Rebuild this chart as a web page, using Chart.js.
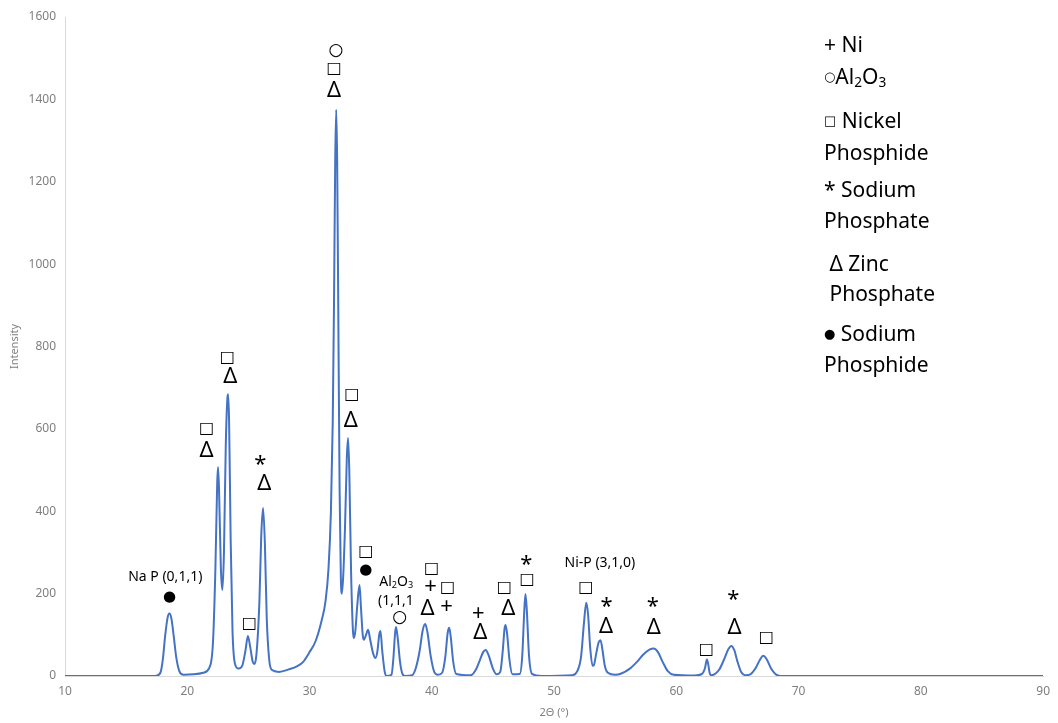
<!DOCTYPE html>
<html>
<head>
    <title>XRD pattern</title>
    <script src="https://cdn.jsdelivr.net/npm/chart.js"></script>
    <style>
        body { margin: 0; background: #fff; }
        .wrap { position: relative; width: 1058px; height: 723px; }
    </style>
</head>
<body>
    <div class="wrap">
        <canvas id="xrd-chart"></canvas>
    </div>

    <script>
        // 2-theta positions and intensity
        const twoTheta = [
            10, 17.4, 17.8, 18.0, 18.2, 18.4, 18.55, 18.7, 18.9, 19.1, 19.35, 19.7, 20.5, 21.3, 21.8,
            22.1, 22.3, 22.45, 22.52, 22.6, 22.75, 22.87, 23.0, 23.15, 23.3, 23.34, 23.42, 23.55, 23.7, 23.9,
            24.2, 24.5, 24.75, 24.96, 25.15, 25.35, 25.48, 25.65, 25.9, 26.05, 26.2, 26.35, 26.5, 26.7, 26.9,
            27.5, 28.3, 29.0, 29.5, 29.96, 30.5, 31.0, 31.3, 31.55, 31.75, 31.9, 32.0, 32.1, 32.18, 32.26,
            32.36, 32.46, 32.56, 32.64, 32.75, 32.9, 33.05, 33.15, 33.25, 33.4, 33.55, 33.62, 33.75, 33.9, 34.09,
            34.2, 34.35, 34.45, 34.6, 34.79, 34.95, 35.2, 35.39, 35.55, 35.7, 35.8, 35.95, 36.15, 36.3, 36.7,
            36.85, 37.0, 37.07, 37.2, 37.4, 37.6, 37.8, 38.4, 38.7, 39.0, 39.25, 39.46, 39.65, 39.9, 40.2,
            40.5, 40.85, 41.1, 41.3, 41.42, 41.55, 41.75, 42.0, 43.2, 43.6, 43.95, 44.2, 44.4, 44.65, 45.0,
            45.3, 45.6, 45.8, 45.95, 46.03, 46.15, 46.35, 46.6, 47.2, 47.4, 47.55, 47.66, 47.77, 47.95, 48.2,
            49, 51.5, 51.9, 52.2, 52.45, 52.63, 52.78, 52.95, 53.15, 53.25, 53.45, 53.65, 53.8, 53.95, 54.15,
            54.4, 55.0, 55.5, 56.2, 56.8, 57.3, 57.8, 58.15, 58.5, 58.9, 59.3, 59.8, 61.5, 62.1, 62.35,
            62.5, 62.6, 62.72, 62.85, 63.1, 63.5, 63.9, 64.25, 64.5, 64.75, 65.0, 65.3, 65.7, 66.1, 66.5,
            66.85, 67.1, 67.4, 67.75, 68.1, 68.5, 90
        ];
        const intensity = [
            0, 0, 8, 40, 100, 143, 152, 140, 95, 45, 12, 3, 4, 8, 20,
            80, 260, 470, 507, 450, 260, 209, 300, 560, 680, 684, 620, 330, 110, 30,
            18, 25, 60, 97, 70, 35, 29, 50, 180, 340, 408, 320, 140, 40, 15,
            10, 16, 24, 35, 56, 85, 136, 180, 260, 400, 620, 900, 1250, 1375, 1250,
            850, 450, 240, 200, 240, 360, 530, 578, 500, 250, 110, 92, 110, 170, 221,
            170, 100, 88, 98, 112, 90, 55, 44, 60, 100, 109, 60, 10, 0, 3,
            40, 105, 119, 95, 35, 5, 0, 2, 20, 60, 110, 126, 105, 50, 10,
            3, 8, 45, 105, 117, 95, 35, 5, 2, 15, 40, 58, 63, 50, 18,
            4, 10, 60, 115, 124, 105, 40, 4, 5, 50, 150, 199, 160, 50, 5,
            0, 2, 12, 45, 130, 178, 150, 70, 25, 26, 55, 82, 87, 65, 25,
            8, 3, 6, 18, 35, 52, 64, 67, 58, 33, 12, 3, 1, 5, 20,
            40, 30, 8, 2, 4, 15, 40, 65, 73, 62, 35, 10, 2, 5, 20,
            40, 49, 40, 18, 5, 0, 0
        ];

        const xTicks = [10, 20, 30, 40, 50, 60, 70, 80, 90];
        const yTicks = [0, 200, 400, 600, 800, 1000, 1200, 1400, 1600];

        // phase symbols placed over the peaks (2-theta, intensity)
        const peakMarks = [
            [18.55, 192, '●'],
            [21.57, 600, '□'], [21.57, 546, 'Δ'],
            [23.28, 772, '□'], [23.52, 726, 'Δ'],
            [25.07, 126, '□'],
            [25.97, 512, '*'], [26.3, 468, 'Δ'],
            [32.16, 1519, '○'], [32.0, 1473, '□'], [32.0, 1420, 'Δ'],
            [33.46, 682, '□'], [33.38, 619, 'Δ'],
            [34.6, 301, '□'], [34.6, 257, '●'],
            [37.37, 143, '○'],
            [39.98, 260, '□'], [39.9, 216, '+'], [39.65, 163, 'Δ'],
            [41.28, 214, '□'], [41.2, 167, '+'],
            [43.8, 150, '+'], [43.97, 104, 'Δ'],
            [45.93, 214, '□'], [46.25, 163, 'Δ'],
            [47.72, 269, '*'], [47.8, 233, '□'],
            [52.6, 214, '□'],
            [54.3, 167, '*'], [54.24, 119, 'Δ'],
            [58.07, 167, '*'], [58.15, 117, 'Δ'],
            [62.46, 63, '□'],
            [64.67, 184, '*'], [64.75, 117, 'Δ'],
            [67.35, 92, '□']
        ];

        const legendLines = [
            [['+ Ni']],
            [['○', 'sym'], ['Al'], ['2', 'sub'], ['O'], ['3', 'sub']],
            [['□', 'sym'], [' Nickel']],
            [['Phosphide']],
            [['* Sodium']],
            [['Phosphate']],
            [[' Δ Zinc']],
            [[' Phosphate']],
            [['●', 'sym'], [' Sodium']],
            [['Phosphide']]
        ];
        const legendY = [46, 78, 122, 154, 191, 222, 265, 295, 335, 366];

        const font = '"Noto Sans", "DejaVu Sans", sans-serif';
        const symFont = '"DejaVu Sans", sans-serif';
        const symSize = { '□': 16, '○': 17, '●': 15 };

        function drawParts(ctx, parts, x, y, size) {
            parts.forEach(p => {
                let s = size, f = font, dy = 0;
                if (p[1] === 'sub') { s = size * 0.65; dy = size * 0.22; }
                if (p[1] === 'sym') { s = size * 0.62; f = symFont; }
                ctx.font = s + 'px ' + f;
                ctx.fillText(p[0], x, y + dy);
                x += ctx.measureText(p[0]).width;
            });
        }

        const markPlugin = {
            id: 'marks',
            afterDatasetsDraw(chart) {
                const ctx = chart.ctx;
                const xs = chart.scales.x, ys = chart.scales.y;
                ctx.save();
                ctx.fillStyle = '#000';
                ctx.textAlign = 'center';
                ctx.textBaseline = 'middle';
                peakMarks.forEach(m => {
                    if (symSize[m[2]]) {
                        ctx.font = symSize[m[2]] + 'px ' + symFont;
                    } else {
                        ctx.font = '22px ' + font;
                    }
                    ctx.fillText(m[2], xs.getPixelForValue(m[0]), ys.getPixelForValue(m[1]));
                });

                // peak labels
                ctx.font = '14px ' + font;
                ctx.fillText('Na P (0,1,1)', xs.getPixelForValue(18.2), ys.getPixelForValue(240));
                ctx.fillText('Ni-P (3,1,0)', xs.getPixelForValue(53.75), ys.getPixelForValue(274));
                ctx.textAlign = 'left';
                drawParts(ctx, [['Al'], ['2', 'sub'], ['O'], ['3', 'sub']],
                    xs.getPixelForValue(35.7), ys.getPixelForValue(228), 14);
                ctx.font = '14px ' + font;
                ctx.fillText('(1,1,1', xs.getPixelForValue(35.6), ys.getPixelForValue(181));

                // phase key on the right
                legendLines.forEach((line, i) => {
                    drawParts(ctx, line, 824, legendY[i], 21);
                });
                ctx.restore();
            }
        };

        const ctx = document.getElementById('xrd-chart').getContext('2d');
        new Chart(ctx, {
            type: 'scatter',
            data: {
                datasets: [{
                    data: twoTheta.map((t, i) => ({ x: t, y: intensity[i] })),
                    showLine: true,
                    borderColor: '#4472C4',
                    borderWidth: 2,
                    pointRadius: 0,
                    cubicInterpolationMode: 'monotone'
                }]
            },
            options: {
                responsive: true,
                maintainAspectRatio: false,
                animation: false,
                layout: { padding: { top: 17, right: 11, left: 0, bottom: 0 } },
                plugins: {
                    legend: { display: false },
                    tooltip: { enabled: false }
                },
                scales: {
                    x: {
                        type: 'linear',
                        min: 10,
                        max: 90,
                        afterBuildTicks: axis => { axis.ticks = xTicks.map(v => ({ value: v })); },
                        afterFit: axis => { axis.height = 47; },
                        grid: { display: false, drawTicks: false },
                        border: { color: '#d9d9d9', width: 1 },
                        ticks: { color: '#7f7f7f', font: { size: 12, family: font }, padding: 8, maxRotation: 0,
                                 callback: v => String(v) },
                        title: { display: true, text: '2Θ (°)', color: '#7f7f7f', font: { size: 11, family: font }, padding: { top: 2 } }
                    },
                    y: {
                        min: 0,
                        max: 1600,
                        afterBuildTicks: axis => { axis.ticks = yTicks.map(v => ({ value: v })); },
                        afterFit: axis => { axis.width = 65; },
                        grid: { display: false, drawTicks: false },
                        border: { color: '#d9d9d9', width: 1 },
                        ticks: { color: '#7f7f7f', font: { size: 12, family: font }, padding: 9,
                                 callback: v => String(v) },
                        title: { display: true, text: 'Intensity', color: '#7f7f7f', font: { size: 11, family: font }, padding: { top: 8, bottom: 0 } }
                    }
                }
            },
            plugins: [markPlugin]
        });
    </script>
</body>
</html>
